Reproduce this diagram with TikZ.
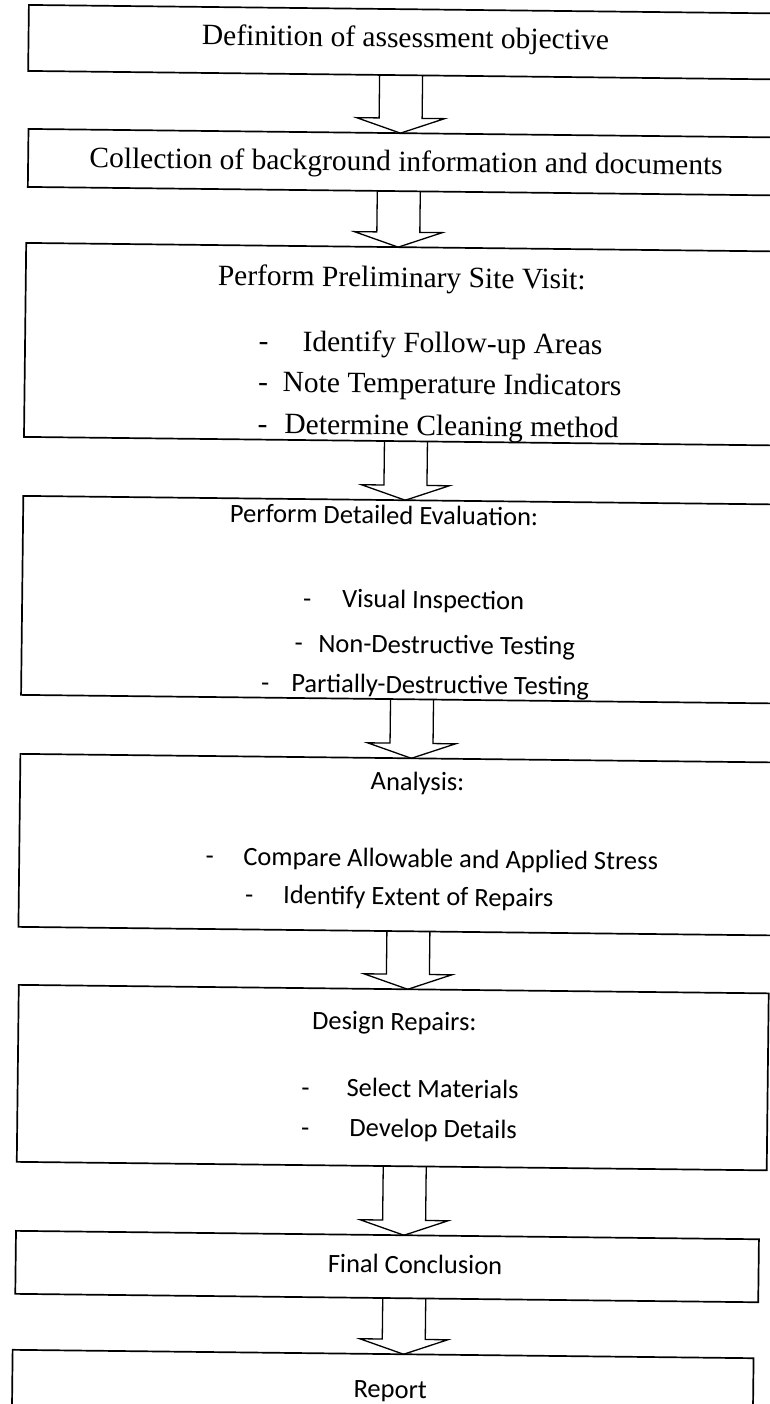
\documentclass[tikz,border=0pt]{standalone}
\usepackage{fontspec}
\setmainfont{Liberation Serif}
\newfontfamily\calib{Carlito}
\usetikzlibrary{calc}
\tikzset{
  box/.style={draw, line width=1.7pt, rectangle, anchor=north west, inner sep=0pt, outer sep=0pt},
  ser/.style={font=\fontsize{29.5}{35}\selectfont, anchor=base, inner sep=0pt},
  cal/.style={font=\calib\fontsize{26.5}{32}\selectfont, anchor=base, inner sep=0pt},
  arrowline/.style={draw, line width=1.3pt, line join=miter},
}
% block arrow: #1 from node, #2 to node, #3 coordinate giving the x of the arrow axis
\newcommand\blockarr[3]{%
  \draw[arrowline] ($(#3 |- #1.south)+(-21.5,0)$) -- ($(#3 |- #2.north)+(-21.5,-15)$)
    -- ($(#3 |- #2.north)+(-44,-15)$) -- (#3 |- #2.north) -- ($(#3 |- #2.north)+(44,-15)$)
    -- ($(#3 |- #2.north)+(21.5,-15)$) -- ($(#3 |- #1.south)+(21.5,0)$);}
\begin{document}
\begin{tikzpicture}[x=1pt,y=-1pt]
\useasboundingbox (0,0) rectangle (770,1404);
\clip (0,0) rectangle (770,1404);
\begin{scope}[transform canvas={rotate around={-0.65:(385,702)}}]
% boxes
\node[box, minimum width=754pt, minimum height=66pt]  (b1) at (21,9) {};
\node[box, minimum width=753pt, minimum height=58pt]  (b2) at (22,133) {};
\node[box, minimum width=754pt, minimum height=194pt] (b3) at (21,247) {};
\node[box, minimum width=754pt, minimum height=199pt] (b4) at (21,500) {};
\node[box, minimum width=754pt, minimum height=173pt] (b5) at (21,758) {};
\node[box, minimum width=750pt, minimum height=177pt] (b6) at (22,989) {};
\node[box, minimum width=743pt, minimum height=63pt]  (b7) at (22,1235) {};
\node[box, minimum width=741pt, minimum height=60pt]  (b8) at (20,1354) {};
% texts
\node[ser] (t1) at (398,47) {Definition of assessment objective};
\node[ser] (t2) at (400,171) {Collection of background information and documents};
\node[ser] (t3) at (397,287) {Perform Preliminary Site Visit:};
\node[ser] (t3d1) at (259.5,352) {-};
\node[ser] (t3i1) at (448.5,352) {Identify Follow-up Areas};
\node[ser] (t3d2) at (259.5,393) {-};
\node[ser] (t3i2) at (448.5,393) {Note Temperature Indicators};
\node[ser] (t3d3) at (259.5,435) {-};
\node[ser] (t3i3) at (448.5,435) {Determine Cleaning method};
\node[cal] (t4) at (382,524) {Perform Detailed Evaluation:};
\node[cal] (t4d1) at (306,608) {-};
\node[cal] (t4i1) at (432,608) {Visual Inspection};
\node[cal] (t4d2) at (298,653) {-};
\node[cal] (t4i2) at (446,653) {Non-Destructive Testing};
\node[cal] (t4d3) at (265,693) {-};
\node[cal] (t4i3) at (440,693) {Partially-Destructive Testing};
\node[cal] (t5) at (418.5,790) {Analysis:};
\node[cal] (t5d1) at (211.5,867) {-};
\node[cal] (t5i1) at (452.5,867) {Compare Allowable and Applied Stress};
\node[cal] (t5d2) at (251.5,905) {-};
\node[cal] (t5i2) at (420.5,905) {Identify Extent of Repairs};
\node[cal] (t6) at (398,1030) {Design Repairs:};
\node[cal] (t6d1) at (310,1097) {-};
\node[cal] (t6i1) at (437,1097) {Select Materials};
\node[cal] (t6d2) at (310,1137) {-};
\node[cal] (t6i2) at (438,1137) {Develop Details};
\node[cal] (t7) at (421.5,1273) {Final Conclusion};
\node[cal] (t8) at (398,1398) {Report};
% arrow axes
\coordinate (x1) at (394,0);
\coordinate (x2) at (393,0);
\coordinate (x3) at (403,0);
\coordinate (x4) at (412,0);
\coordinate (x5) at (411,0);
\coordinate (x6) at (410,0);
\coordinate (x7) at (411,0);
\blockarr{b1}{b2}{x1}
\blockarr{b2}{b3}{x2}
\blockarr{b3}{b4}{x3}
\blockarr{b4}{b5}{x4}
\blockarr{b5}{b6}{x5}
\blockarr{b6}{b7}{x6}
\blockarr{b7}{b8}{x7}
\end{scope}
\end{tikzpicture}
\end{document}
